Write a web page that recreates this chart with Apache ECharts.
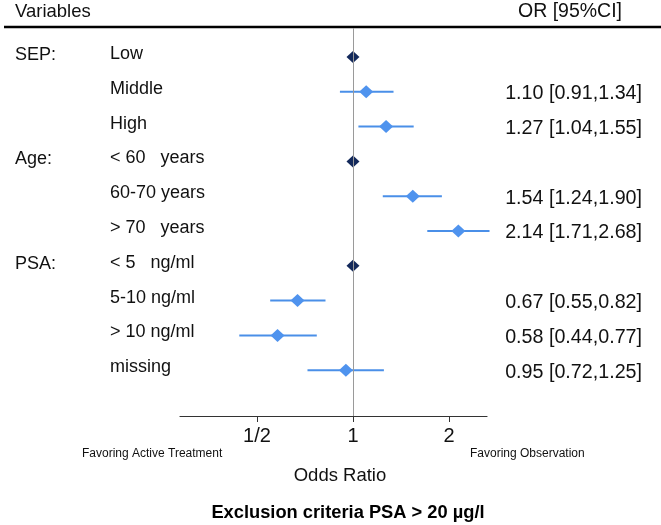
<!DOCTYPE html>
<html>
<head>
<meta charset="utf-8">
<script src="https://cdn.jsdelivr.net/npm/echarts@6/dist/echarts.min.js"></script>
<style>
html, body { margin: 0; padding: 0; background: #fff; }
#chart { width: 661px; height: 525px; }
</style>
</head>
<body>
<div id="chart"></div>
<script>
// forest plot data
var groups = ['SEP:', '', '', 'Age:', '', '', 'PSA:', '', '', ''];
var labels = ['Low', 'Middle', 'High', '< 60   years', '60-70 years', '> 70   years',
              '< 5   ng/ml', '5-10 ng/ml', '> 10 ng/ml', 'missing'];
var oddsRatio = [1, 1.10, 1.27, 1, 1.54, 2.14, 1, 0.67, 0.58, 0.95];
var ciLow = [null, 0.91, 1.04, null, 1.24, 1.71, null, 0.55, 0.44, 0.72];
var ciHigh = [null, 1.34, 1.55, null, 1.90, 2.68, null, 0.82, 0.77, 1.25];
var tickValues = [0.5, 1, 2];
var tickLabels = ['1/2', '1', '2'];

var FONT = '"Liberation Sans", Arial, Helvetica, sans-serif';
var chart = echarts.init(document.getElementById('chart'));

var pointData = [], barData = [], rowData = [];
for (var i = 0; i < labels.length; i++) {
    var isRef = ciLow[i] == null;
    pointData.push({
        value: [Math.log2(oddsRatio[i]), i],
        symbolSize: isRef ? [13, 12] : [14, 13],
        itemStyle: { color: isRef ? '#13295b' : '#4f93ee', opacity: 1 }
    });
    if (!isRef) {
        barData.push([i, Math.log2(ciLow[i]), Math.log2(ciHigh[i])]);
    }
    var ciText = isRef ? '' : oddsRatio[i].toFixed(2) + ' [' + ciLow[i].toFixed(2) + ',' + ciHigh[i].toFixed(2) + ']';
    rowData.push([i, groups[i], labels[i], ciText]);
}

var tickLog = tickValues.map(function (v) { return Math.log2(v); });

var option = {
    animation: false,
    grid: { left: 180, right: 174, top: 28, bottom: 109 },
    xAxis: {
        type: 'value',
        min: -1.802,
        max: 1.396,
        splitLine: { show: false },
        axisLine: { onZero: false, lineStyle: { color: '#333', width: 1.2 } },
        axisTick: { show: true, length: 6, lineStyle: { color: '#333' }, customValues: tickLog },
        axisLabel: {
            customValues: tickLog,
            margin: 10,
            fontSize: 20,
            fontFamily: FONT,
            color: '#111',
            formatter: function (v) {
                for (var k = 0; k < tickLog.length; k++) {
                    if (Math.abs(tickLog[k] - v) < 1e-6) return tickLabels[k];
                }
                return '';
            }
        }
    },
    yAxis: {
        type: 'value',
        inverse: true,
        min: -0.833,
        max: 10.316,
        show: false
    },
    series: [
        {
            type: 'custom',
            name: 'ci',
            data: barData,
            encode: { x: [1, 2], y: 0 },
            renderItem: function (params, api) {
                var row = api.value(0);
                var a = api.coord([api.value(1), row]);
                var b = api.coord([api.value(2), row]);
                return {
                    type: 'line',
                    shape: { x1: a[0], y1: a[1], x2: b[0], y2: b[1] },
                    style: { stroke: '#4a8fe8', lineWidth: 2 }
                };
            },
            markLine: {
                silent: true,
                symbol: 'none',
                label: { show: false },
                lineStyle: { color: '#9a9a9a', width: 1, type: 'solid' },
                data: [{ xAxis: 0 }]
            },
            z: 2
        },
        {
            type: 'scatter',
            symbol: 'diamond',
            data: pointData,
            z: 3
        },
        {
            type: 'custom',
            name: 'labels',
            data: rowData,
            encode: { y: 0 },
            renderItem: function (params, api) {
                var idx = params.dataIndex;
                var y = api.coord([0, rowData[idx][0]])[1];
                return {
                    type: 'group',
                    children: [
                        { type: 'text', style: { text: rowData[idx][1], x: 15, y: y - 2, font: '18px ' + FONT, fill: '#111', verticalAlign: 'middle' } },
                        { type: 'text', style: { text: rowData[idx][2], x: 110, y: y - 3, font: '18px ' + FONT, fill: '#111', verticalAlign: 'middle' } },
                        { type: 'text', style: { text: rowData[idx][3], x: 642, y: y + 2, font: '19.7px ' + FONT, fill: '#111', align: 'right', verticalAlign: 'middle' } }
                    ]
                };
            }
        }
    ],
    graphic: [
        { type: 'line', shape: { x1: 4, y1: 27, x2: 661, y2: 27 }, style: { stroke: '#000', lineWidth: 2.5 } },
        { type: 'text', style: { text: 'Variables', x: 15, y: 12, font: '18.5px ' + FONT, fill: '#111', verticalAlign: 'middle' } },
        { type: 'text', style: { text: 'OR [95%CI]', x: 622, y: 12, font: '19.5px ' + FONT, fill: '#111', align: 'right', verticalAlign: 'middle' } },
        { type: 'text', style: { text: 'Favoring Active Treatment', x: 82, y: 454, font: '12px ' + FONT, fill: '#111', verticalAlign: 'middle' } },
        { type: 'text', style: { text: 'Favoring Observation', x: 470, y: 454, font: '12px ' + FONT, fill: '#111', verticalAlign: 'middle' } },
        { type: 'text', style: { text: 'Odds Ratio', x: 340, y: 476, font: '18.5px ' + FONT, fill: '#111', align: 'center', verticalAlign: 'middle' } },
        { type: 'text', style: { text: 'Exclusion criteria PSA > 20 µg/l', x: 348, y: 513, font: 'bold 18.3px ' + FONT, fill: '#000', align: 'center', verticalAlign: 'middle' } }
    ]
};
chart.setOption(option);
</script>
</body>
</html>
